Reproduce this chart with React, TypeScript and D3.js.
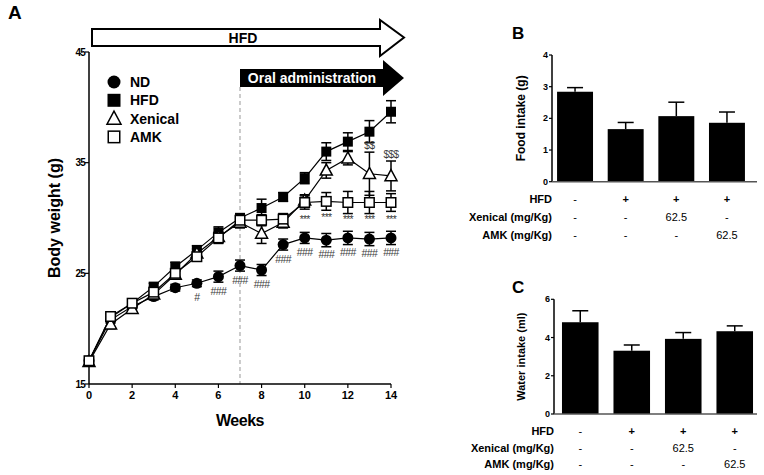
import React from "react";
import * as d3 from "d3";

const weeks = [0, 1, 2, 3, 4, 5, 6, 7, 8, 9, 10, 11, 12, 13, 14];
const ndValues = [17.1, 20.8, 22.0, 22.9, 23.7, 24.1, 24.7, 25.7, 25.3, 27.6, 28.2, 28.0, 28.2, 28.1, 28.2];
const hfdValues = [17.1, 21.0, 22.3, 23.8, 25.6, 27.1, 28.7, 30.0, 30.9, 31.9, 33.6, 36.0, 36.9, 37.8, 39.6];
const xenicalValues = [17.0, 20.4, 21.8, 23.1, 24.9, 26.8, 28.3, 29.6, 28.6, 29.6, 31.6, 34.3, 35.4, 34.0, 33.8];
const amkValues = [17.1, 21.1, 22.3, 23.3, 25.0, 26.5, 28.2, 29.8, 29.8, 29.9, 31.4, 31.5, 31.4, 31.4, 31.4];
const ndErr = [0.3, 0.3, 0.3, 0.3, 0.3, 0.3, 0.5, 0.5, 0.5, 0.5, 0.5, 0.6, 0.6, 0.6, 0.6];
const hfdErr = [0.3, 0.3, 0.3, 0.3, 0.4, 0.4, 0.5, 0.4, 0.8, 0.4, 0.5, 0.8, 0.8, 1.0, 1.0];
const xenicalErr = [0.3, 0.4, 0.3, 0.3, 0.4, 0.4, 0.4, 0.5, 0.9, 0.5, 0.5, 0.7, 0.6, 1.95, 1.35];
const amkErr = [0.3, 0.3, 0.3, 0.3, 0.4, 0.4, 0.5, 0.4, 0.5, 0.5, 0.6, 0.8, 1.0, 1.0, 0.8];
const ndSig = ["", "", "", "", "", "#", "###", "###", "###", "###", "###", "###", "###", "###", "###"];
const amkSig = ["", "", "", "", "", "", "", "", "", "", "***", "***", "***", "***", "***"];
const xenicalSig = ["", "", "", "", "", "", "", "", "", "", "", "", "", "$$", "$$$"];
const weekTicks = [0, 2, 4, 6, 8, 10, 12, 14];
const weightTicks = [15, 25, 35, 45];
const legendNames = ["ND", "HFD", "Xenical", "AMK"];

const groups = ["ND", "HFD", "Xenical", "AMK"];
const foodValues = [2.84, 1.66, 2.07, 1.86];
const foodErr = [0.13, 0.21, 0.44, 0.34];
const waterValues = [4.8, 3.31, 3.93, 4.33];
const waterErr = [0.6, 0.3, 0.33, 0.28];
const foodTicks = [0, 1, 2, 3, 4];
const waterTicks = [0, 2, 4, 6];
const tableLabels = ["HFD", "Xenical (mg/Kg)", "AMK (mg/Kg)"];
const tableValues = [
  ["-", "+", "+", "+"],
  ["-", "-", "62.5", "-"],
  ["-", "-", "-", "62.5"],
];

const FONT = "'Liberation Sans', Arial, sans-serif";
const SIGC = "#3c3c3c";

type Shape = "circle" | "square" | "triangle" | "square-open";

function Marker({ shape, x, y, s }: { shape: Shape; x: number; y: number; s: number }) {
  if (shape === "circle") return <circle cx={x} cy={y} r={s / 2} fill="#000" />;
  if (shape === "square") return <rect x={x - s / 2} y={y - s / 2} width={s} height={s} fill="#000" />;
  if (shape === "square-open")
    return <rect x={x - s / 2 + 0.75} y={y - s / 2 + 0.75} width={s - 1.5} height={s - 1.5} fill="#fff" stroke="#000" strokeWidth={1.5} />;
  const h = s * 0.95;
  return (
    <path
      d={`M${x},${y - h * 0.6}L${x + s / 2 + 0.5},${y + h * 0.45}L${x - s / 2 - 0.5},${y + h * 0.45}Z`}
      fill="#fff"
      stroke="#000"
      strokeWidth={1.5}
    />
  );
}

function PanelA() {
  const x = d3.scaleLinear().domain([0, 14]).range([89, 391]);
  const y = d3.scaleLinear().domain([15, 45]).range([384, 52]);
  const series = [
    { name: "ND", vals: ndValues, err: ndErr, shape: "circle" as Shape, size: 11 },
    { name: "HFD", vals: hfdValues, err: hfdErr, shape: "square" as Shape, size: 10 },
    { name: "Xenical", vals: xenicalValues, err: xenicalErr, shape: "triangle" as Shape, size: 11 },
    { name: "AMK", vals: amkValues, err: amkErr, shape: "square-open" as Shape, size: 11 },
  ];
  const line = d3
    .line<number>()
    .x((_, i) => x(weeks[i]))
    .y((d) => y(d));
  const legendShapes: Shape[] = ["circle", "square", "triangle", "square-open"];
  const x7 = x(7);
  const tip = x(14) + 13;
  return (
    <g fontFamily={FONT}>
      <text x={8} y={19} fontSize={19} fontWeight="bold">A</text>
      {/* HFD arrow */}
      <path
        d={`M${x(0) + 3},29L${tip - 24},29L${tip - 24},20L${tip},37.5L${tip - 24},56L${tip - 24},46L${x(0) + 3},46Z`}
        fill="#fff"
        stroke="#000"
        strokeWidth={2}
      />
      <text x={243} y={43} fontSize={14} fontWeight="bold" textAnchor="middle">HFD</text>
      {/* Oral administration arrow */}
      <path
        d={`M${x7},69L${tip - 21},69L${tip - 21},60L${tip},78L${tip - 21},96L${tip - 21},87L${x7},87Z`}
        fill="#000"
      />
      <text x={312} y={83} fontSize={14} fontWeight="bold" textAnchor="middle" fill="#fff">Oral administration</text>
      <line x1={x7} x2={x7} y1={87} y2={384} stroke="#aaa" strokeWidth={1.2} strokeDasharray="4,3" />
      {/* axes */}
      <line x1={x(0)} x2={x(0)} y1={y(45)} y2={y(15)} stroke="#000" strokeWidth={1.5} />
      <line x1={x(0)} x2={x(14)} y1={y(15)} y2={y(15)} stroke="#000" strokeWidth={1.5} />
      {weightTicks.map((t) => (
        <g key={t}>
          <line x1={x(0) - 4} x2={x(0)} y1={y(t)} y2={y(t)} stroke="#000" strokeWidth={1.2} />
          <text x={x(0) - 4} y={y(t) + 3.5} fontSize={10} fontWeight="bold" textAnchor="end" letterSpacing={-0.8}>{t}</text>
        </g>
      ))}
      {weekTicks.map((t) => (
        <g key={t}>
          <line x1={x(t)} x2={x(t)} y1={y(15)} y2={y(15) + 4} stroke="#000" strokeWidth={1.2} />
          <text x={x(t)} y={y(15) + 15} fontSize={11} fontWeight="bold" textAnchor="middle">{t}</text>
        </g>
      ))}
      <text x={240} y={426} fontSize={16} fontWeight="bold" textAnchor="middle" letterSpacing={-0.5}>Weeks</text>
      <text transform="translate(60,218) rotate(-90)" fontSize={16} fontWeight="bold" textAnchor="middle">Body weight (g)</text>
      {/* legend */}
      {legendNames.map((n, i) => (
        <g key={n}>
          <Marker shape={legendShapes[i]} x={114} y={82 + i * 18.3} s={13} />
          <text x={130} y={87 + i * 18.3} fontSize={14} fontWeight="bold">{n}</text>
        </g>
      ))}
      {/* lines */}
      {series.map((s) => (
        <path key={s.name} d={line(s.vals) || ""} fill="none" stroke="#000" strokeWidth={1.2} />
      ))}
      {/* error bars */}
      {series.map((s) =>
        s.vals.map((v, i) => (
          <g key={s.name + i} stroke="#000" strokeWidth={1.5}>
            <line x1={x(weeks[i])} x2={x(weeks[i])} y1={y(v - s.err[i])} y2={y(v + s.err[i])} />
            <line x1={x(weeks[i]) - 5} x2={x(weeks[i]) + 5} y1={y(v + s.err[i])} y2={y(v + s.err[i])} />
            <line x1={x(weeks[i]) - 5} x2={x(weeks[i]) + 5} y1={y(v - s.err[i])} y2={y(v - s.err[i])} />
          </g>
        ))
      )}
      {/* markers */}
      {series.map((s) =>
        s.vals.map((v, i) => <Marker key={s.name + "m" + i} shape={s.shape} x={x(weeks[i])} y={y(v)} s={s.size} />)
      )}
      {/* significance */}
      {ndSig.map((t, i) =>
        t ? (
          <text key={"nd" + i} x={x(weeks[i])} y={y(ndValues[i]) + 18} fontSize={10.5} fill={SIGC} textAnchor="middle" letterSpacing={-0.6}>{t}</text>
        ) : null
      )}
      {amkSig.map((t, i) =>
        t ? (
          <text key={"amk" + i} x={x(weeks[i])} y={y(amkValues[i]) + 20} fontSize={10.5} fill={SIGC} textAnchor="middle" letterSpacing={-0.8}>{t}</text>
        ) : null
      )}
      {xenicalSig.map((t, i) =>
        t ? (
          <text key={"xen" + i} x={x(weeks[i])} y={y(xenicalValues[i] + xenicalErr[i]) - 3} fontSize={10} fill={SIGC} textAnchor="middle" letterSpacing={-0.5}>{t}</text>
        ) : null
      )}
    </g>
  );
}

function BarPanel({
  letter, letterX, letterY, values, errs, ticks, yMax, axisX, axisEnd, yTop, yBottom, bandEnd, padOuter, label, labelSize, rowY,
}: {
  letter: string; letterX: number; letterY: number; values: number[]; errs: number[]; ticks: number[]; yMax: number;
  axisX: number; axisEnd: number; yTop: number; yBottom: number; bandEnd: number; padOuter: number; label: string; labelSize: number; rowY: number[];
}) {
  const x = d3.scaleBand().domain(groups).range([axisX, bandEnd]).paddingInner(0.29).paddingOuter(padOuter);
  const y = d3.scaleLinear().domain([0, yMax]).range([yBottom, yTop]);
  const bw = x.bandwidth();
  return (
    <g fontFamily={FONT}>
      <text x={letterX} y={letterY} fontSize={17} fontWeight="bold">{letter}</text>
      {groups.map((g, i) => {
        const cx = (x(g) as number) + bw / 2;
        return (
          <g key={g}>
            <line x1={cx} x2={cx} y1={y(values[i])} y2={y(values[i] + errs[i])} stroke="#000" strokeWidth={1.5} />
            <line x1={cx - 8} x2={cx + 8} y1={y(values[i] + errs[i])} y2={y(values[i] + errs[i])} stroke="#000" strokeWidth={1.5} />
            <rect x={x(g)} y={y(values[i])} width={bw} height={y(0) - y(values[i])} fill="#000" />
          </g>
        );
      })}
      <line x1={axisX} x2={axisX} y1={yTop} y2={yBottom} stroke="#000" strokeWidth={1.5} />
      <line x1={axisX} x2={axisEnd} y1={yBottom} y2={yBottom} stroke="#555" strokeWidth={1.5} />
      {ticks.map((t) => (
        <g key={t}>
          <line x1={axisX - 3} x2={axisX} y1={y(t)} y2={y(t)} stroke="#000" strokeWidth={1.2} />
          <text x={axisX - 4} y={y(t) + 3} fontSize={9} fontWeight="bold" textAnchor="end">{t}</text>
        </g>
      ))}
      <text transform={`translate(525,${(yTop + yBottom) / 2}) rotate(-90)`} fontSize={labelSize} fontWeight="bold" textAnchor="middle">{label}</text>
      {tableLabels.map((lab, r) => (
        <g key={lab}>
          <text x={axisX} y={rowY[r]} fontSize={11} fontWeight="bold" textAnchor="end">{lab}</text>
          {tableValues[r].map((v, c) => (
            <text key={c} x={(x(groups[c]) as number) + bw / 2} y={rowY[r]} fontSize={11} textAnchor="middle" fontWeight={v === "+" ? "bold" : "normal"}>{v}</text>
          ))}
        </g>
      ))}
    </g>
  );
}

export default function App() {
  return (
    <svg width={764} height={475} style={{ position: "absolute", left: 0, top: 0, background: "#fff" }}>
      <rect width={764} height={475} fill="#fff" />
      <PanelA />
      <BarPanel
        letter="B" letterX={512} letterY={39}
        values={foodValues} errs={foodErr} ticks={foodTicks} yMax={4}
        axisX={552} axisEnd={757} yTop={55} yBottom={181.7} bandEnd={750} padOuter={0.1}
        label="Food intake (g)" labelSize={12} rowY={[203, 221, 239]}
      />
      <BarPanel
        letter="C" letterX={512} letterY={293}
        values={waterValues} errs={waterErr} ticks={waterTicks} yMax={6}
        axisX={554} axisEnd={757} yTop={299.3} yBottom={414} bandEnd={761} padOuter={0.155}
        label="Water intake (ml)" labelSize={11} rowY={[435, 452, 468]}
      />
    </svg>
  );
}
